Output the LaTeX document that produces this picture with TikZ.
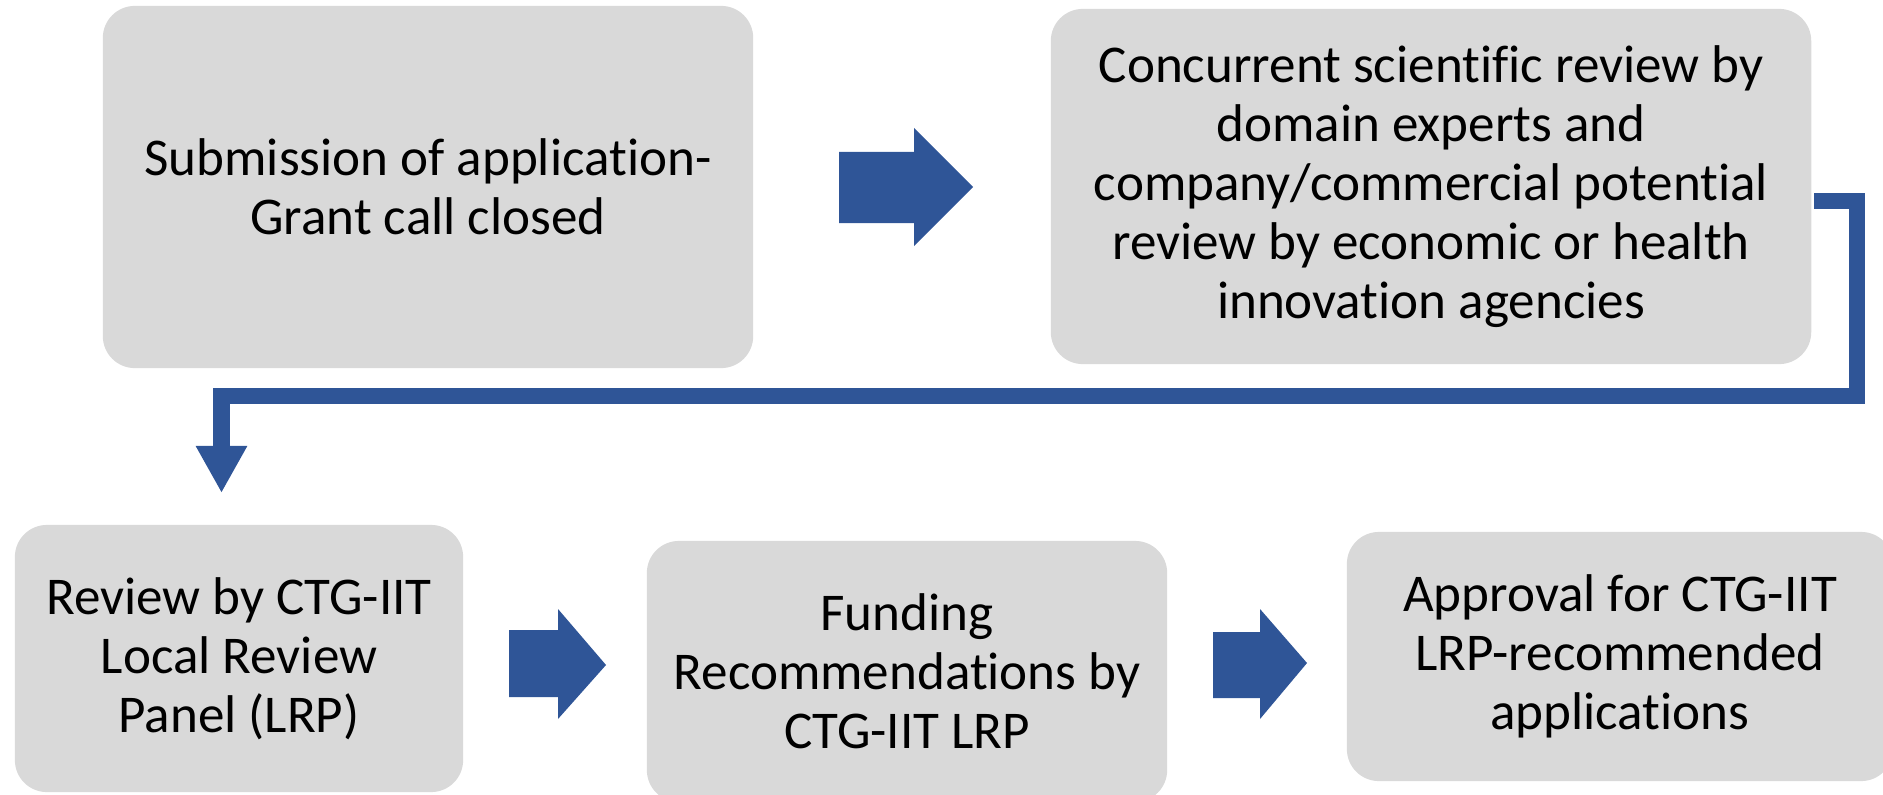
\documentclass[tikz,border=0pt]{standalone}
\usepackage{fontspec}
\setmainfont{Carlito}[Ligatures=CommonOff]
\usetikzlibrary{arrows.meta}
\definecolor{boxgray}{HTML}{D9D9D9}
\definecolor{flowblue}{HTML}{2F5597}
\tikzset{
  stepbox/.style={fill=boxgray,rounded corners=0.32cm,align=center,inner sep=0pt,
    font=\fontsize{15.1pt}{16.8pt}\selectfont},
  flowline/.style={draw=flowblue,line width=0.16cm,line join=miter,
    -{Triangle[width=0.48cm,length=0.47cm]}}
}
\begin{document}
\begin{tikzpicture}[x=0.01cm,y=-0.01cm]
\clip (0,0) rectangle (1883,794);
\node[stepbox,minimum width=6.5cm,minimum height=3.62cm] (submit) at (428,187)
  {Submission of application-\\Grant call closed};
\node[stepbox,minimum width=7.6cm,minimum height=3.55cm] (review) at (1431,186.5)
  {Concurrent scientific review by\\domain experts and\\company/commercial potential\\review by economic or health\\innovation agencies};
\node[stepbox,minimum width=4.48cm,minimum height=2.67cm] (lrp) at (239,658.5)
  {Review by CTG-IIT\\Local Review\\Panel (LRP)};
\node[stepbox,minimum width=5.2cm,minimum height=2.61cm] (funding) at (907,671.5)
  {Funding\\Recommendations by\\CTG-IIT LRP};
\node[stepbox,minimum width=5.46cm,minimum height=2.49cm] (approval) at (1620,656.5)
  {Approval for CTG-IIT\\LRP-recommended\\applications};
\fill[flowblue] (839,152) -- (914,152) -- (914,128) -- (973,187) -- (914,246) -- (914,223) -- (839,223) -- cycle;
\fill[flowblue] (509,630) -- (558,630) -- (558,609) -- (606,665) -- (558,719) -- (558,697) -- (509,697) -- cycle;
\fill[flowblue] (1213,632) -- (1260,632) -- (1260,609) -- (1307,663) -- (1260,719) -- (1260,698) -- (1213,698) -- cycle;
\coordinate (turnout) at (1814,201);
\coordinate (turnin) at (221.5,493);
\draw[flowline] (turnout) -| (1857,395.5) -| (turnin);
\end{tikzpicture}
\end{document}
